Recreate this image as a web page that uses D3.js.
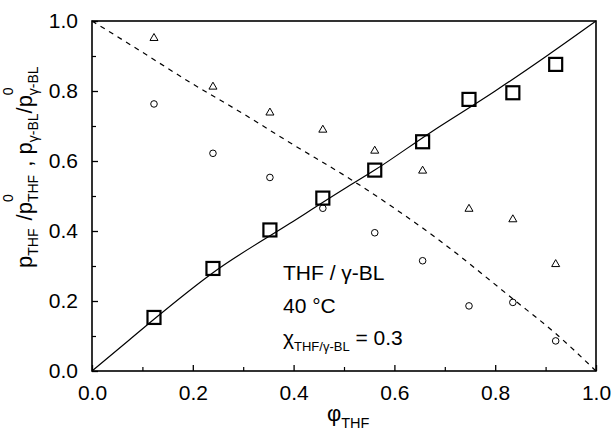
<!DOCTYPE html>
<html><head><meta charset="utf-8">
<script src="https://cdn.jsdelivr.net/npm/d3@7"></script>
<style>body{margin:0;background:#fff}svg{display:block}text{font-family:"Liberation Sans",Arial,Helvetica,sans-serif;fill:#000}</style>
</head><body>
<svg id="c" width="612" height="431"></svg>
<script>
// Data
const phi = [0.123, 0.240, 0.353, 0.458, 0.561, 0.656, 0.748, 0.835, 0.920];
const thfRel = [0.153, 0.293, 0.403, 0.494, 0.574, 0.655, 0.776, 0.795, 0.876];      // squares
const bl1Rel = [0.951, 0.812, 0.738, 0.689, 0.629, 0.572, 0.463, 0.433, 0.305];     // triangles
const bl2Rel = [0.763, 0.622, 0.553, 0.465, 0.395, 0.315, 0.186, 0.196, 0.086];     // circles
const thfCurveX = [0, 0.075, 0.123, 0.24, 0.393, 0.5, 0.561, 0.671, 0.8, 0.9, 1.0];
const thfCurveY = [0, 0.090, 0.148, 0.281, 0.422, 0.52, 0.574, 0.681, 0.80, 0.898, 1.0];
const blCurveX = [0, 0.082, 0.2, 0.3, 0.393, 0.515, 0.6, 0.684, 0.836, 0.92, 1.0];
const blCurveY = [1.0, 0.927, 0.82, 0.735, 0.652, 0.546, 0.465, 0.379, 0.205, 0.107, 0];
const xTicks = [0.0, 0.2, 0.4, 0.6, 0.8, 1.0];
const yTicks = [0.0, 0.2, 0.4, 0.6, 0.8, 1.0];

const svg = d3.select("#c");
const L = 92, T = 21, W = 504, H = 350;
const x = d3.scaleLinear().domain([0, 1]).range([L, L + W]);
const y = d3.scaleLinear().domain([0, 1]).range([T + H, T]);

// curves
const line = d3.line().x(d => x(d[0])).y(d => y(d[1])).curve(d3.curveMonotoneX);
svg.append("path").datum(thfCurveX.map((v, i) => [v, thfCurveY[i]]))
  .attr("d", line).attr("fill", "none").attr("stroke", "#000").attr("stroke-width", 1.2);
svg.append("path").datum(blCurveX.map((v, i) => [v, blCurveY[i]]))
  .attr("d", line).attr("fill", "none").attr("stroke", "#000").attr("stroke-width", 1.2)
  .attr("stroke-dasharray", "5,5");

// axes (ticks inward)
const fmt = d3.format(".1f");
const xAxis = d3.axisBottom(x).tickValues(xTicks).tickFormat(fmt).tickSizeInner(-6).tickSizeOuter(0).tickPadding(14);
const yAxis = d3.axisLeft(y).tickValues(yTicks).tickFormat(fmt).tickSizeInner(-6).tickSizeOuter(0).tickPadding(14);
const gx = svg.append("g").attr("transform", `translate(0,${T + H})`).call(xAxis);
const gy = svg.append("g").attr("transform", `translate(${L},0)`).call(yAxis);
[gx, gy].forEach(g => {
  g.select(".domain").remove();
  g.selectAll("line").attr("stroke", "#000").attr("stroke-width", 1.3);
  g.selectAll("text").attr("font-size", 21).attr("font-family", '"Liberation Sans",Arial,sans-serif').attr("fill", "#000");
});
// minor ticks
const minor = [0.1, 0.3, 0.5, 0.7, 0.9];
const xMinor = d3.axisBottom(x).tickValues(minor).tickFormat("").tickSizeInner(-4).tickSizeOuter(0);
const yMinor = d3.axisLeft(y).tickValues(minor).tickFormat("").tickSizeInner(-4).tickSizeOuter(0);
[svg.append("g").attr("transform", `translate(0,${T + H})`).call(xMinor),
 svg.append("g").attr("transform", `translate(${L},0)`).call(yMinor)].forEach(g => {
  g.select(".domain").remove();
  g.selectAll("line").attr("stroke", "#000").attr("stroke-width", 1.2);
});
// frame
svg.append("rect").attr("x", L).attr("y", T).attr("width", W).attr("height", H)
  .attr("fill", "none").attr("stroke", "#000").attr("stroke-width", 1.6);

// markers
svg.append("g").selectAll("rect").data(phi.map((v, i) => [v, thfRel[i]])).join("rect")
  .attr("x", d => x(d[0]) - 6.5).attr("y", d => y(d[1]) - 6.5).attr("width", 13).attr("height", 13)
  .attr("fill", "none").attr("stroke", "#000").attr("stroke-width", 2.2);
const tri = d3.symbol().type(d3.symbolTriangle).size(28);
svg.append("g").selectAll("path").data(phi.map((v, i) => [v, bl1Rel[i]])).join("path")
  .attr("d", tri).attr("transform", d => `translate(${x(d[0])},${y(d[1])})`)
  .attr("fill", "none").attr("stroke", "#000").attr("stroke-width", 1);
svg.append("g").selectAll("circle").data(phi.map((v, i) => [v, bl2Rel[i]])).join("circle")
  .attr("cx", d => x(d[0])).attr("cy", d => y(d[1])).attr("r", 3.3)
  .attr("fill", "none").attr("stroke", "#000").attr("stroke-width", 1);

// annotation
svg.append("text").attr("x", 283).attr("y", 280).attr("font-size", 21).text("THF / γ-BL");
svg.append("text").attr("x", 283).attr("y", 313).attr("font-size", 21).text("40 °C");
const chi = svg.append("text").attr("x", 283).attr("y", 345).attr("font-size", 21);
chi.append("tspan").text("χ");
chi.append("tspan").attr("font-size", 13).attr("dy", 6).text("THF/γ-BL");
chi.append("tspan").attr("dy", -6).text(" = 0.3");

// x title
const xt = svg.append("text").attr("x", 327).attr("y", 421).attr("font-size", 22);
xt.append("tspan").text("φ");
xt.append("tspan").attr("font-size", 14.5).attr("dy", 7).text("THF");

// y title
const yt = svg.append("text").attr("transform", "translate(32,268) rotate(-90)").attr("font-size", 22);
yt.append("tspan").text("p");
yt.append("tspan").attr("font-size", 14).attr("dy", 6).text("THF");
yt.append("tspan").attr("dy", -6).attr("dx", 2).text(" /p");
yt.append("tspan").attr("font-size", 14).attr("dy", -19).text("0");
yt.append("tspan").attr("font-size", 14).attr("dx", -7.8).attr("dy", 25).text("THF");
yt.append("tspan").attr("dy", -6).attr("dx", 2).text(" , p");
yt.append("tspan").attr("font-size", 14).attr("dy", 6).text("γ-BL");
yt.append("tspan").attr("dy", -6).text("/p");
yt.append("tspan").attr("font-size", 14).attr("dy", -19).text("0");
yt.append("tspan").attr("font-size", 14).attr("dx", -7.8).attr("dy", 25).text("γ-BL");
</script>
</body></html>
